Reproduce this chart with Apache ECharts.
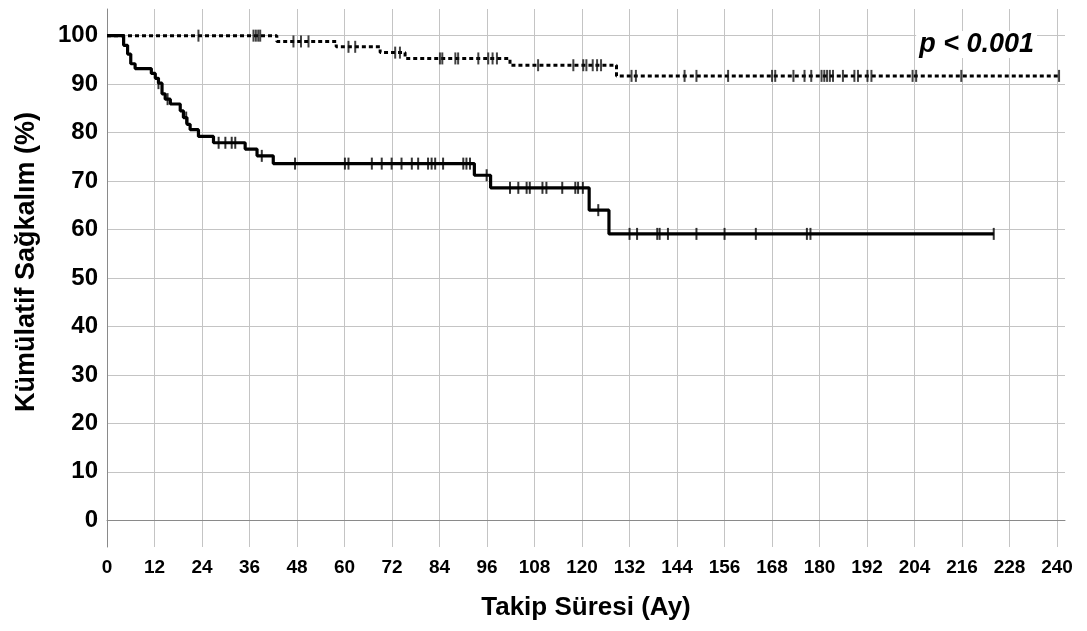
<!DOCTYPE html>
<html>
<head>
<meta charset="utf-8">
<script src="https://cdn.jsdelivr.net/npm/echarts@6.0.0/dist/echarts.min.js"></script>
<style>
  html, body { margin: 0; padding: 0; background: #fff; }
  #chart { width: 1087px; height: 631px; }
</style>
</head>
<body>
<div id="chart"></div>
<script>
// Grup 1 (kesikli çizgi): olay zamanları ve kümülatif sağkalım
const times1 = [0, 42.9, 57.9, 69.0, 75.3, 101.8, 128.7, 240.5];
const surv1 = [100, 98.8, 97.7, 96.5, 95.3, 93.9, 91.7, 91.7];
const censor1 = [23.1, 37.0, 37.6, 38.2, 38.7, 47.1, 49.0, 50.9, 61.0, 62.7, 72.8, 74.0,
  84.1, 84.7, 88.0, 88.7, 93.8, 96.3, 97.4, 98.5, 108.9, 117.8, 120.3, 121.1, 122.7,
  123.8, 124.8, 132.5, 133.6, 145.9, 148.9, 156.9, 168.0, 168.8, 173.4, 176.2, 177.9,
  180.5, 181.2, 181.9, 182.6, 183.4, 185.9, 188.8, 189.7, 192.1, 193.1, 203.5, 204.4,
  215.8, 240.5];

// Grup 2 (düz çizgi)
const times2 = [0, 4.2, 5.2, 6.0, 7.1, 11.2, 12.2, 13.0, 13.9, 14.7, 16.0, 18.5, 19.3,
  20.2, 21.0, 23.1, 26.9, 34.9, 37.9, 42.0, 92.8, 96.9, 121.8, 126.8, 224];
const surv2 = [100, 98.0, 96.2, 94.2, 93.2, 92.2, 91.2, 90.2, 88.0, 86.9, 85.9, 84.5, 83.1,
  81.7, 80.6, 79.2, 77.9, 76.6, 75.2, 73.6, 71.2, 68.6, 64.0, 59.1, 59.1];
const censor2 = [13.0, 15.3, 20.0, 28.2, 29.9, 31.5, 32.4, 39.1, 47.5, 60.1, 61.0, 66.9,
  69.4, 71.9, 74.4, 77.0, 78.6, 81.1, 82.0, 82.9, 84.9, 90.0, 90.8, 91.7, 95.9, 101.8,
  103.9, 106.0, 106.8, 110.0, 111.0, 115.0, 118.3, 119.0, 120.2, 124.1, 132.0, 133.9,
  139.0, 139.6, 141.7, 148.9, 156.0, 163.9, 176.8, 177.7, 224];

const xTicks = [0, 12, 24, 36, 48, 60, 72, 84, 96, 108, 120, 132, 144, 156, 168, 180, 192, 204, 216, 228, 240];
const yTicks = [0, 10, 20, 30, 40, 50, 60, 70, 80, 90, 100];

const FONT = '"Liberation Sans", Arial, sans-serif';

// KM eğrisinde verilen zamandaki değer
const survAt = (times, surv, t) => {
  let v = surv[0];
  for (let i = 0; i < times.length; i++) {
    if (times[i] <= t) v = surv[i];
  }
  return v;
};

const toPairs = (xs, ys) => xs.map((x, i) => [x, ys[i]]);
const censorPts = (cs, times, surv) => cs.map(t => [t, survAt(times, surv, t)]);

const chart = echarts.init(document.getElementById('chart'));

chart.setOption({
  backgroundColor: '#fff',
  animation: false,
  grid: { left: 107, right: 22, top: 9, bottom: 84 },
  xAxis: {
    type: 'value',
    min: 0,
    max: 242,
    interval: 12,
    name: 'Takip Süresi (Ay)',
    nameLocation: 'middle',
    nameGap: 48,
    nameTextStyle: { fontFamily: FONT, fontWeight: 'bold', fontSize: 26, color: '#000' },
    axisLine: { lineStyle: { color: '#8a8a8a', width: 1 } },
    axisTick: { show: false },
    axisLabel: {
      margin: 11,
      fontFamily: FONT, fontWeight: 'bold', fontSize: 19, color: '#000',
      formatter: v => (xTicks.includes(v) ? String(v) : '')
    },
    splitLine: { show: true, showMaxLine: false, lineStyle: { color: '#c4c4c4', width: 1 } }
  },
  yAxis: {
    type: 'value',
    min: -5.5,
    max: 105.5,
    splitNumber: 11,
    name: 'Kümülatif Sağkalım (%)',
    nameLocation: 'middle',
    nameGap: 67,
    nameTextStyle: {
      fontFamily: FONT, fontWeight: 'bold', fontSize: 27, color: '#000',
      padding: [0, 0, 0, 32]
    },
    axisLine: { show: true, lineStyle: { color: '#8a8a8a', width: 1 } },
    axisTick: { show: false },
    axisLabel: {
      margin: 9,
      fontFamily: FONT, fontWeight: 'bold', fontSize: 24, color: '#000',
      formatter: v => (yTicks.includes(v) ? String(v) : '')
    },
    splitLine: { show: true, showMinLine: false, showMaxLine: false, lineStyle: { color: '#c4c4c4', width: 1 } }
  },
  series: [
    {
      name: 'grup1',
      type: 'line',
      step: 'end',
      data: toPairs(times1, surv1),
      symbol: 'none',
      lineStyle: { color: '#000', width: 3, type: [4, 3] },
      z: 3
    },
    {
      name: 'grup1 sansür',
      type: 'scatter',
      data: censorPts(censor1, times1, surv1),
      symbol: 'rect',
      symbolSize: [2, 12],
      itemStyle: { color: '#111' },
      z: 4
    },
    {
      name: 'grup2',
      type: 'line',
      step: 'end',
      data: toPairs(times2, surv2),
      symbol: 'none',
      lineStyle: { color: '#000', width: 3.2 },
      z: 3
    },
    {
      name: 'grup2 sansür',
      type: 'scatter',
      data: censorPts(censor2, times2, surv2),
      symbol: 'rect',
      symbolSize: [2, 12],
      itemStyle: { color: '#000' },
      z: 4
    }
  ],
  graphic: [
    {
      type: 'text',
      right: 50,
      top: 31,
      z: 10,
      style: {
        text: 'p < 0.001',
        fontFamily: FONT,
        fontWeight: 'bold',
        fontStyle: 'italic',
        fontSize: 27,
        fill: '#000',
        backgroundColor: '#fff',
        padding: [0, 3]
      }
    }
  ]
});
</script>
</body>
</html>
